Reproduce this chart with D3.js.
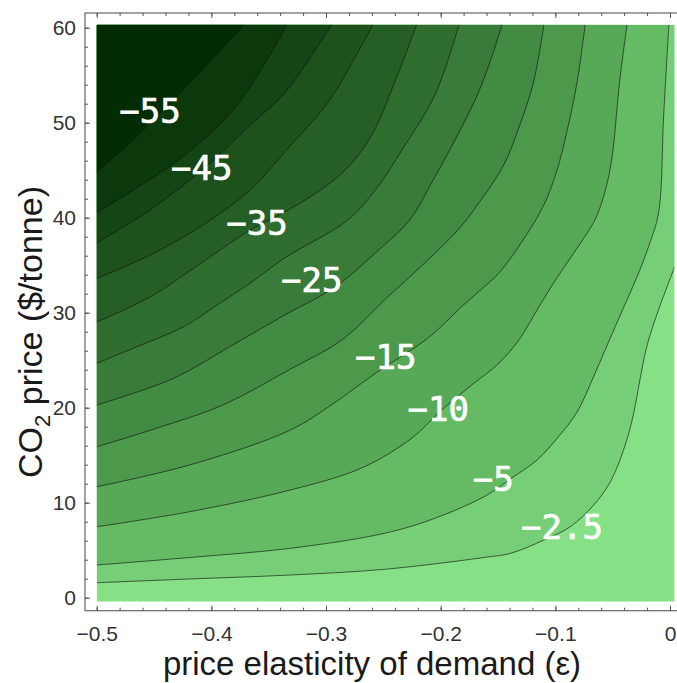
<!DOCTYPE html>
<html>
<head>
<meta charset="utf-8">
<script src="https://cdn.jsdelivr.net/npm/d3@7"></script>
<style>
  html, body { margin: 0; padding: 0; background: #fff; }
  svg { display: block; }
</style>
</head>
<body>
<svg id="chart" width="677" height="683"></svg>
<script>
// contour levels (outermost first) and band fills, lightest band first
const levels = [-2.5, -5, -10, -15, -20, -25, -30, -35, -40, -45, -50, -55];
const bandColors = ["#86e086", "#76cf76", "#64bb64", "#57a957", "#4c994c", "#428b42",
  "#397c39", "#2f6e2f", "#265f26", "#1d521d", "#144514", "#0b390b", "#022d02"];

// contour lines as [elasticity, CO2 price]
const c2_5 = [[-0.5,1.58],[-0.419,1.97],[-0.331,2.39],[-0.249,2.99],[-0.161,4.25],[-0.139,4.67],
  [-0.110,6.07],[-0.087,7.47],[-0.0665,9.76],[-0.052,12.21],[-0.040,15.73],[-0.032,19.23],
  [-0.026,23.09],[-0.021,26.07],[-0.016,28.18],[-0.0085,30.81],[0.004,34.81]];
const c5 = [[-0.5,3.44],[-0.419,4.23],[-0.331,5.20],[-0.249,6.78],[-0.205,8.36],[-0.161,10.71],
  [-0.138,12.60],[-0.116,14.49],[-0.096,17.13],[-0.081,19.55],[-0.066,23.44],[-0.054,26.80],
  [-0.041,30.40],[-0.029,33.70],[-0.018,37.20],[-0.010,40.50],[-0.0055,50.81],[-0.001,60.3]];
const c10 = [[-0.5,7.47],[-0.419,9.05],[-0.331,11.34],[-0.269,13.65],[-0.225,16.81],[-0.201,19.55],
  [-0.173,22.39],[-0.151,24.49],[-0.133,26.92],[-0.116,30.28],[-0.101,33.23],[-0.081,36.81],
  [-0.066,39.65],[-0.058,42.20],[-0.051,46.00],[-0.044,54.28],[-0.0375,60.3]];
const c15 = [[-0.5,11.68],[-0.419,13.97],[-0.331,17.65],[-0.294,20.40],[-0.256,23.70],[-0.211,27.34],
  [-0.181,30.71],[-0.166,32.30],[-0.149,34.20],[-0.127,37.86],[-0.110,41.34],[-0.099,44.81],
  [-0.090,49.02],[-0.081,54.28],[-0.074,60.3]];
const c20 = [[-0.5,15.89],[-0.448,17.83],[-0.390,20.28],[-0.331,24.07],[-0.286,27.13],[-0.249,31.34],
  [-0.214,35.23],[-0.185,38.71],[-0.168,41.34],[-0.145,45.55],[-0.131,49.76],[-0.119,54.28],[-0.110,60.3]];
const c25 = [[-0.5,20.28],[-0.433,23.09],[-0.384,26.42],[-0.336,29.76],[-0.292,32.71],[-0.257,36.28],
  [-0.227,39.76],[-0.208,43.65],[-0.1875,48.18],[-0.168,52.92],[-0.157,56.39],[-0.1465,60.3]];
const c30 = [[-0.5,24.67],[-0.465,26.42],[-0.424,28.53],[-0.395,30.81],[-0.366,33.13],[-0.336,35.76],
  [-0.281,39.76],[-0.257,42.92],[-0.231,47.65],[-0.205,52.92],[-0.184,60.3]];
const c35 = [[-0.5,29.02],[-0.4535,31.65],[-0.410,35.13],[-0.366,38.71],[-0.336,40.60],[-0.301,43.23],
  [-0.279,45.55],[-0.260,48.71],[-0.240,54.28],[-0.221,60.3]];
const c40 = [[-0.5,33.60],[-0.4535,36.07],[-0.410,39.02],[-0.366,42.92],[-0.336,46.92],[-0.298,52.18],
  [-0.275,56.81],[-0.259,60.3]];
const c45 = [[-0.5,37.34],[-0.4535,40.81],[-0.408,45.02],[-0.366,49.76],[-0.336,53.13],[-0.314,56.81],[-0.295,60.3]];
const c50 = [[-0.5,40.55],[-0.468,42.92],[-0.425,46.39],[-0.381,51.34],[-0.3515,56.60],[-0.334,60.3]];
const c55 = [[-0.5,44.81],[-0.471,47.86],[-0.440,51.55],[-0.410,55.34],[-0.3715,60.3]];

// contour labels
const labelText = ["\u221255", "\u221245", "\u221235", "\u221225", "\u221215", "\u221210", "\u22125", "\u22122.5"];
const labelEps = [-0.4535, -0.4084, -0.3602, -0.3125, -0.2479, -0.2021, -0.1541, -0.0942];
const labelPrice = [51.25, 45.28, 39.49, 33.44, 25.37, 19.84, 12.57, 7.47];

// axis ticks
const xTicks = [-0.5, -0.4, -0.3, -0.2, -0.1, 0];
const yTicks = [0, 10, 20, 30, 40, 50, 60];

const contours = [c2_5, c5, c10, c15, c20, c25, c30, c35, c40, c45, c50, c55];

const svg = d3.select("#chart");
const font = "'Liberation Sans', Arial, Helvetica, sans-serif";

// frame box (Mathematica style, padded around the plot range)
const frame = {left: 85, top: 13, right: 686, bottom: 610.7};

const x = d3.scaleLinear().domain([-0.5, 0]).range([96.7, 670]);
const y = d3.scaleLinear().domain([0, 60]).range([597.7, 27.7]);

// extent of the shaded area
const fillLeft = -0.5, fillRight = 0.004, fillTop = 60.3, fillBottom = -0.42;

svg.append("clipPath").attr("id", "plotClip")
  .append("rect")
  .attr("x", x(fillLeft)).attr("y", y(fillTop))
  .attr("width", x(fillRight) - x(fillLeft))
  .attr("height", y(fillBottom) - y(fillTop));

const plot = svg.append("g").attr("clip-path", "url(#plotClip)");

// lightest band as the base
plot.append("rect")
  .attr("x", x(fillLeft)).attr("y", y(fillTop))
  .attr("width", x(fillRight) - x(fillLeft))
  .attr("height", y(fillBottom) - y(fillTop))
  .attr("fill", bandColors[0]);

const line = d3.line()
  .x(d => x(d[0]))
  .y(d => y(d[1]))
  .curve(d3.curveCatmullRom.alpha(0.5));

// each contour closed round the top-left corner; darker bands painted on top
function bandPath(pts) {
  let d = line(pts);
  const last = pts[pts.length - 1];
  if (last[1] < fillTop) d += "L" + x(fillRight) + "," + y(fillTop);
  d += "L" + x(fillLeft) + "," + y(fillTop) + "Z";
  return d;
}

plot.selectAll(".band")
  .data(contours)
  .enter().append("path")
  .attr("class", "band")
  .attr("d", bandPath)
  .attr("fill", (d, i) => bandColors[i + 1]);

plot.selectAll(".contour")
  .data(contours)
  .enter().append("path")
  .attr("class", "contour")
  .attr("d", line)
  .attr("fill", "none")
  .attr("stroke", "#111")
  .attr("stroke-opacity", 0.8)
  .attr("stroke-width", 0.8);

// contour labels
svg.selectAll(".clabel")
  .data(labelText)
  .enter().append("text")
  .attr("class", "clabel")
  .attr("x", (d, i) => x(labelEps[i]))
  .attr("y", (d, i) => y(labelPrice[i]))
  .attr("dy", "0.36em")
  .attr("text-anchor", "middle")
  .attr("fill", "#fff")
  .attr("stroke", "#fff")
  .attr("stroke-width", 0.7)
  .style("font-family", "'DejaVu Sans Mono', 'Liberation Mono', monospace")
  .style("font-size", "34px")
  .text(d => d);

// frame
svg.append("rect")
  .attr("x", frame.left).attr("y", frame.top)
  .attr("width", frame.right - frame.left)
  .attr("height", frame.bottom - frame.top)
  .attr("fill", "none")
  .attr("stroke", "#666")
  .attr("stroke-width", 1.2);

const fmtX = d => d === 0 ? "0" : d3.format(".1f")(d);

function styleAxis(g) {
  g.select(".domain").remove();
  g.selectAll(".tick line").attr("stroke", "#555");
  g.selectAll(".tick text")
    .attr("fill", "#333")
    .style("font-family", font)
    .style("font-size", "21px");
}

// bottom axis
svg.append("g")
  .attr("transform", "translate(0," + frame.bottom + ")")
  .call(d3.axisBottom(x).tickValues(xTicks).tickSize(-5).tickPadding(15).tickFormat(fmtX))
  .call(styleAxis);
svg.append("g")
  .attr("transform", "translate(0," + frame.bottom + ")")
  .call(d3.axisBottom(x).ticks(25).tickSize(-3).tickFormat(""))
  .call(styleAxis);

// top axis
svg.append("g")
  .attr("transform", "translate(0," + frame.top + ")")
  .call(d3.axisTop(x).tickValues(xTicks).tickSize(-5).tickFormat(""))
  .call(styleAxis);
svg.append("g")
  .attr("transform", "translate(0," + frame.top + ")")
  .call(d3.axisTop(x).ticks(25).tickSize(-3).tickFormat(""))
  .call(styleAxis);

// left axis
svg.append("g")
  .attr("transform", "translate(" + frame.left + ",0)")
  .call(d3.axisLeft(y).tickValues(yTicks).tickSize(-5).tickPadding(9))
  .call(styleAxis);
svg.append("g")
  .attr("transform", "translate(" + frame.left + ",0)")
  .call(d3.axisLeft(y).ticks(30).tickSize(-3).tickFormat(""))
  .call(styleAxis);

// axis titles
svg.append("text")
  .attr("x", 372)
  .attr("y", 675)
  .attr("text-anchor", "middle")
  .attr("fill", "#1a1a1a")
  .style("font-family", font)
  .style("font-size", "33px")
  .text("price elasticity of demand (\u03b5)");

const yTitle = svg.append("text")
  .attr("transform", "translate(42,332) rotate(-90)")
  .attr("text-anchor", "middle")
  .attr("fill", "#1a1a1a")
  .style("font-family", font)
  .style("font-size", "34px");
yTitle.append("tspan").text("CO");
yTitle.append("tspan").attr("dy", 8).style("font-size", "22px").text("2");
yTitle.append("tspan").attr("dy", -8).text(" price ($/tonne)");
</script>
</body>
</html>
